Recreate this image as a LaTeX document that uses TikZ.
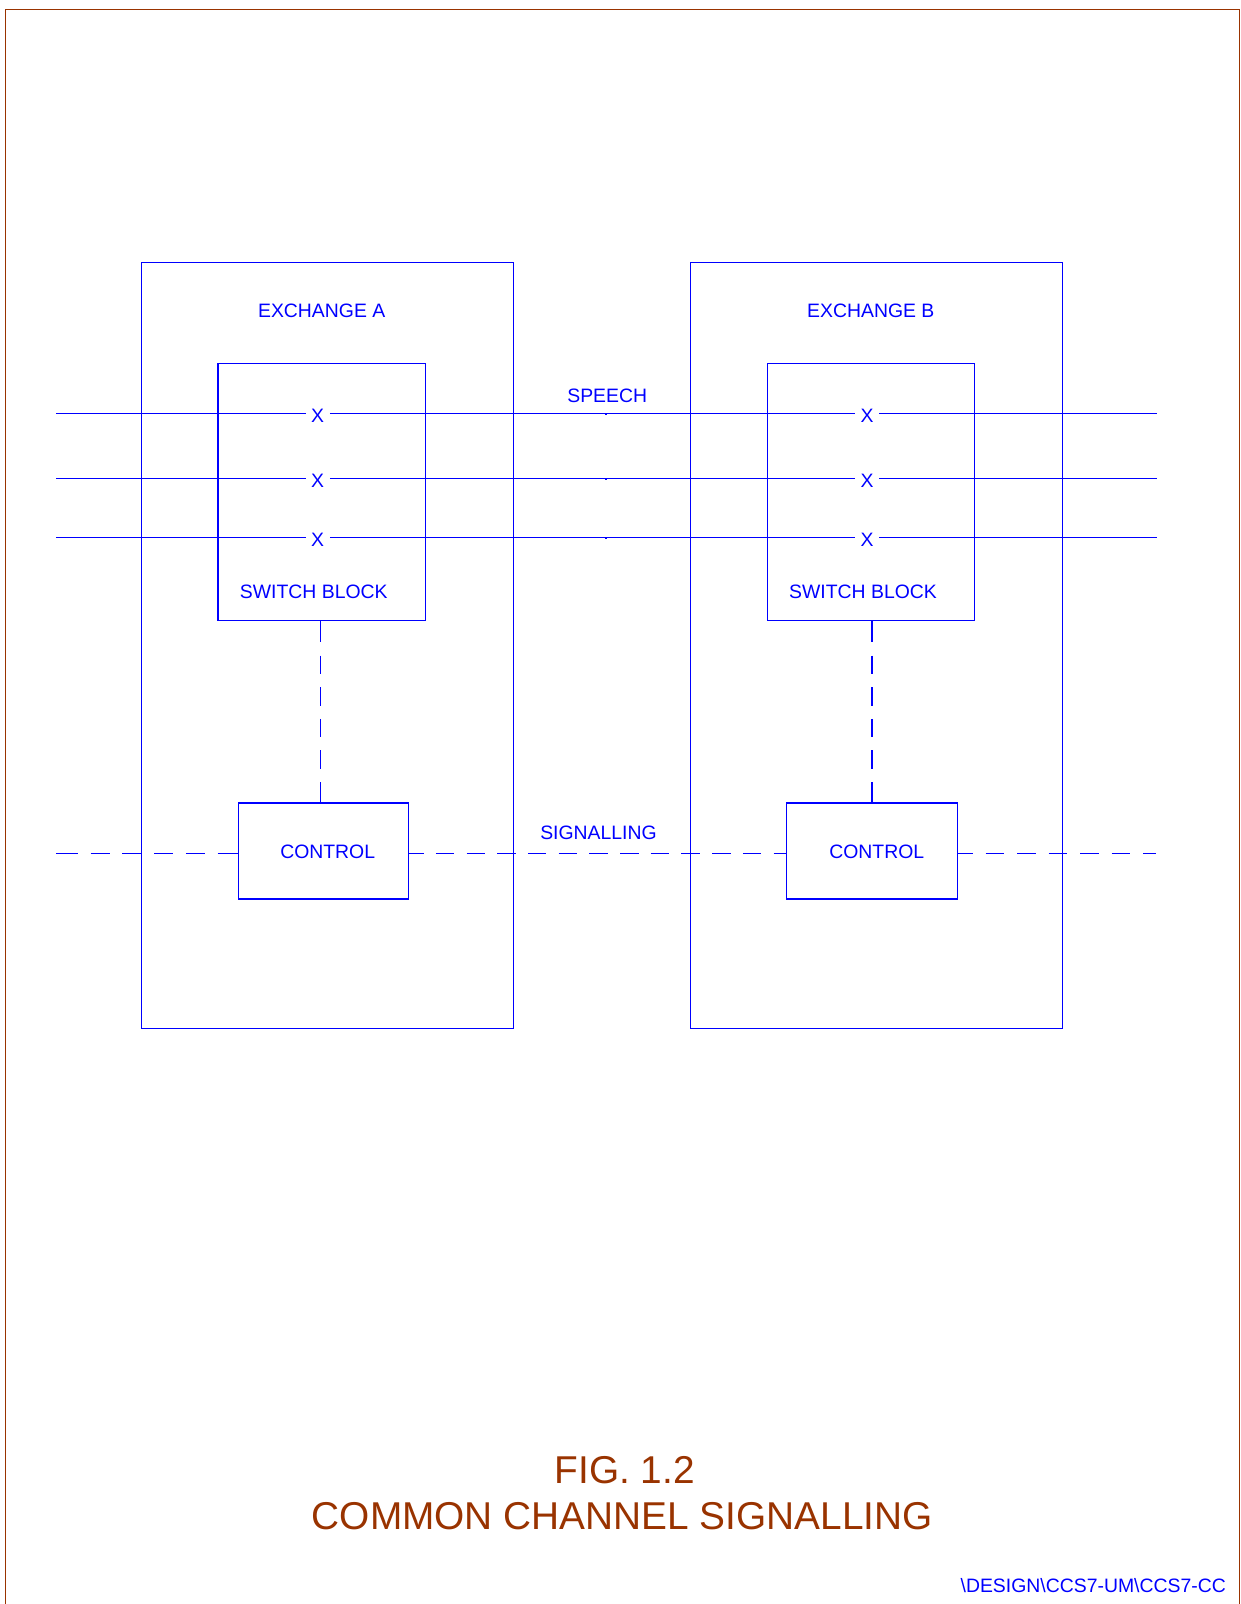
\documentclass[tikz,border=0pt]{standalone}
\usepackage{fontspec}
\setmainfont{Liberation Sans}
\definecolor{ink}{RGB}{0,0,255}
\definecolor{rust}{RGB}{153,51,0}
\begin{document}
\begin{tikzpicture}[x=1pt,y=-1pt,
  wire/.style={draw=ink, line width=1.2pt},
  box/.style={wire, rectangle, inner sep=0pt},
  lbl/.style={text=ink, inner sep=0pt, anchor=base, font=\fontsize{19.4}{23}\selectfont},
  xing/.style={lbl, inner xsep=5.5pt},
  ttl/.style={text=rust, inner sep=0pt, anchor=base, font=\fontsize{38.8}{46}\selectfont},
  sigleft/.style={dash pattern=on 21.7pt off 13pt on 19pt off 12.7pt on 19pt off 12.7pt
    on 19pt off 12.7pt on 19pt off 12.7pt on 40pt off 10pt},
  sigmid/.style={dash pattern=on 14.5pt off 12.2pt on 18.5pt off 12.2pt on 18.5pt off 12.2pt
    on 18.5pt off 12.2pt on 18.5pt off 12.2pt on 18.5pt off 12.2pt on 18.5pt off 12.2pt
    on 18.5pt off 12.2pt on 18.5pt off 12.2pt on 18.5pt off 12.2pt on 18.5pt off 12.2pt
    on 18.5pt off 12.2pt on 30pt off 10pt},
  sigright/.style={dash pattern=on 14.3pt off 13pt on 18.5pt off 13pt on 18.5pt off 13pt
    on 18.5pt off 13pt on 18.5pt off 13pt on 18.5pt off 13pt on 30pt off 10pt},
  linkdash/.style={dash pattern=on 21pt off 13.3pt on 18.3pt off 13.3pt on 18.3pt off 13.3pt
    on 18.3pt off 13.3pt on 18.3pt off 13.3pt on 40pt off 10pt},
]
\useasboundingbox (0,0) rectangle (1241,1604);

% sheet border
\draw[rust, line width=1.2pt] (5.7,1604) -- (5.7,9.3) -- (1239.3,9.3) -- (1239.3,1604);

% exchanges
\node[box, minimum width=372pt, minimum height=765.5pt] (exA) at (327.3,645.45) {};
\node[box, minimum width=372pt, minimum height=765.5pt] (exB) at (876.7,645.45) {};
\node[lbl] (exAl) at (321.7,317.3) {EXCHANGE A};
\node[lbl] (exBl) at (870.8,317.3) {EXCHANGE B};

% switch blocks
\node[box, minimum width=207.3pt, minimum height=257pt] (swA) at (321.65,492.2) {};
\node[box, minimum width=207pt, minimum height=257pt] (swB) at (870.8,492.2) {};
\node[lbl] (swAl) at (313.8,598.3) {SWITCH BLOCK};
\node[lbl] (swBl) at (863,598.3) {SWITCH BLOCK};

% control units
\node[box, minimum width=170.1pt, minimum height=96pt] (ctlA) at (323.45,851) {};
\node[box, minimum width=170.8pt, minimum height=96pt] (ctlB) at (872.2,851) {};
\node[lbl] (ctlAl) at (327.7,858.3) {CONTROL};
\node[lbl] (ctlBl) at (876.8,858.3) {CONTROL};

% speech circuits through both switch blocks
\foreach \i/\y/\b in {1/413.3/422.7, 2/478.7/487.3, 3/537.7/546.7}{
  \coordinate (in\i) at (56.3,\y);
  \coordinate (out\i) at (1156.7,\y);
  \node[xing] (xA\i) at (317.7,\b) {X};
  \node[xing] (xB\i) at (867,\b) {X};
  \draw[wire] (in\i) -- (in\i -| xA\i.west);
  \draw[wire] (xA\i.east |- in\i) -- (in\i -| xB\i.west);
  \draw[wire] (xB\i.east |- in\i) -- (out\i);
  \fill[ink] (605.3,\y) rectangle (607.3,\y+1.6);
}
\node[lbl] (speech) at (607.2,402.3) {SPEECH};

% switch block to control links
\coordinate (vA) at (320.3,0);
\coordinate (vB) at (872,0);
\draw[wire, linkdash] (vA |- swA.south) -- (vA |- ctlA.north);
\draw[wire, linkdash] (vB |- swB.south) -- (vB |- ctlB.north);

% common signalling channel
\coordinate (sigin) at (56,853.3);
\coordinate (sigout) at (1156,853.3);
\draw[wire, sigleft] (sigin) -- (sigin -| ctlA.west);
\draw[wire, sigmid] (ctlA.east |- sigin) -- (sigin -| ctlB.west);
\draw[wire, sigright] (ctlB.east |- sigin) -- (sigout);
\node[lbl] (sig) at (598.5,839.3) {SIGNALLING};

% caption and drawing reference
\node[ttl] (fig) at (624.6,1483.2) {FIG. 1.2};
\node[ttl] (cap) at (622.3,1529.3) {COMMON CHANNEL SIGNALLING};
\node[lbl, anchor=base east] (ref) at (1226,1592.7) {\textbackslash DESIGN\textbackslash CCS7-UM\textbackslash CCS7-CC};
\end{tikzpicture}
\end{document}
